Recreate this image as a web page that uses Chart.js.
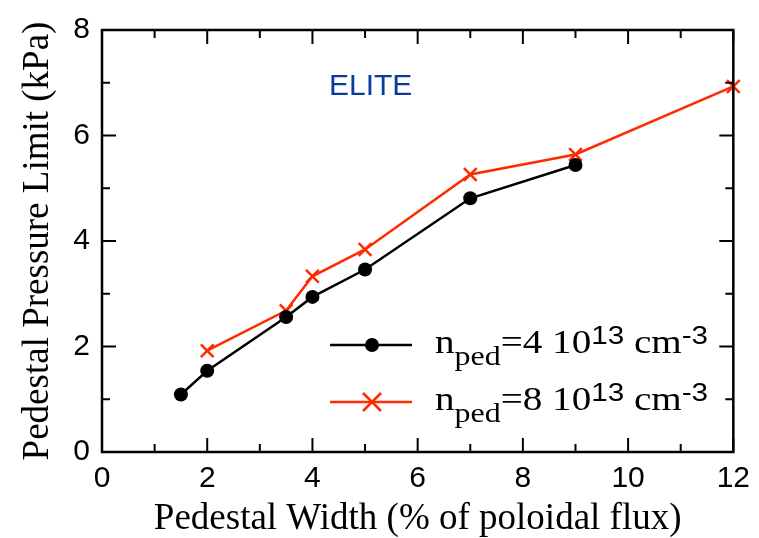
<!DOCTYPE html>
<html lang="en">
<head>
  <meta charset="UTF-8" />
  <title>Pedestal Pressure Limit vs Pedestal Width</title>
  <script src="https://cdn.jsdelivr.net/npm/chart.js"></script>
  <style>
    html, body { margin: 0; padding: 0; background: #fff; }
    #wrap { width: 759px; height: 538px; position: relative; }
  </style>
</head>
<body>
  <div id="wrap"><canvas id="pedChart" width="759" height="538"></canvas></div>
  <script>
    // data
    const widthLow = [1.5, 2, 3.5, 4, 5, 7, 9];
    const pressLow = [1.09, 1.54, 2.56, 2.94, 3.46, 4.81, 5.44];
    const widthHigh = [2, 3.5, 4, 5, 7, 9, 12];
    const pressHigh = [1.92, 2.68, 3.33, 3.84, 5.26, 5.64, 6.93];
    const xTicks = [0, 2, 4, 6, 8, 10, 12];
    const yTicks = [0, 2, 4, 6, 8];

    const RED = '#ff2a00';
    const BLUE = '#0b3a9e';
    const SERIF = '"Liberation Serif", "Times New Roman", serif';
    const SANS = '"Liberation Sans", Arial, Helvetica, sans-serif';

    const toPts = (xs, ys) => xs.map((x, i) => ({ x: x, y: ys[i] }));

    // frame + inward major/minor ticks on all four sides
    const frameTicks = {
      id: 'frameTicks',
      afterDatasetsDraw(chart) {
        const { ctx, chartArea: a, scales } = chart;
        const sx = scales.x, sy = scales.y;
        ctx.save();
        ctx.strokeStyle = '#000';
        ctx.lineWidth = 2.5;
        ctx.strokeRect(a.left, a.top, a.right - a.left, a.bottom - a.top);
        ctx.lineWidth = 2;
        ctx.beginPath();
        for (let v = sx.min; v <= sx.max; v += 1) {
          const len = v % 2 === 0 ? 14 : 8;
          const px = sx.getPixelForValue(v);
          ctx.moveTo(px, a.bottom); ctx.lineTo(px, a.bottom - len);
          ctx.moveTo(px, a.top); ctx.lineTo(px, a.top + len);
        }
        for (let v = sy.min; v <= sy.max; v += 1) {
          const len = v % 2 === 0 ? 14 : 8;
          const py = sy.getPixelForValue(v);
          ctx.moveTo(a.left, py); ctx.lineTo(a.left + len, py);
          ctx.moveTo(a.right, py); ctx.lineTo(a.right - len, py);
        }
        ctx.stroke();
        ctx.restore();
      }
    };

    // text pieces with sub/superscripts, stretched to a target width
    function drawRich(ctx, x, y, parts, targetW) {
      let w = 0;
      parts.forEach(p => { ctx.font = p.font; w += ctx.measureText(p.t).width; });
      const k = targetW ? targetW / w : 1;
      ctx.save();
      ctx.translate(x, y);
      ctx.scale(k, 1);
      let cx = 0;
      parts.forEach(p => {
        ctx.font = p.font;
        ctx.fillText(p.t, cx, p.dy || 0);
        cx += ctx.measureText(p.t).width;
      });
      ctx.restore();
    }

    // "ELITE" label and the legend
    const annotations = {
      id: 'annotations',
      afterDraw(chart) {
        const ctx = chart.ctx;
        ctx.save();
        ctx.textBaseline = 'alphabetic';
        ctx.textAlign = 'left';
        ctx.fillStyle = BLUE;
        ctx.font = '30px ' + SANS;
        ctx.fillText('ELITE', 329, 95);

        const rows = [
          { y: 345, color: '#000', style: 'circle', dens: '4' },
          { y: 402, color: RED, style: 'cross', dens: '8' }
        ];
        rows.forEach(r => {
          ctx.strokeStyle = r.color;
          ctx.fillStyle = r.color;
          ctx.lineWidth = r.style === 'circle' ? 2.5 : 2.5;
          ctx.beginPath();
          ctx.moveTo(330, r.y); ctx.lineTo(412, r.y);
          ctx.stroke();
          if (r.style === 'circle') {
            ctx.beginPath();
            ctx.arc(372, r.y, 7, 0, Math.PI * 2);
            ctx.fill();
          } else {
            const d = 9;
            ctx.beginPath();
            ctx.moveTo(372 - d, r.y - d); ctx.lineTo(372 + d, r.y + d);
            ctx.moveTo(372 - d, r.y + d); ctx.lineTo(372 + d, r.y - d);
            ctx.stroke();
          }
          ctx.fillStyle = '#000';
          drawRich(ctx, 435, r.y + 8, [
            { t: 'n', font: '33px ' + SERIF },
            { t: 'ped', font: '27px ' + SERIF, dy: 12 },
            { t: '=' + r.dens + ' 10', font: '33px ' + SERIF },
            { t: '13', font: '25px ' + SANS, dy: -9 },
            { t: ' cm', font: '33px ' + SERIF },
            { t: '-3', font: '25px ' + SANS, dy: -9 }
          ], 273);
        });
        ctx.restore();
      }
    };

    new Chart(document.getElementById('pedChart'), {
      type: 'scatter',
      data: {
        datasets: [
          {
            label: 'n_ped=4 10^13 cm^-3',
            data: toPts(widthLow, pressLow),
            showLine: true,
            borderColor: '#000',
            backgroundColor: '#000',
            borderWidth: 2.5,
            pointStyle: 'circle',
            pointRadius: 7,
            pointBorderWidth: 0,
            clip: false
          },
          {
            label: 'n_ped=8 10^13 cm^-3',
            data: toPts(widthHigh, pressHigh),
            showLine: true,
            borderColor: RED,
            backgroundColor: RED,
            borderWidth: 2.5,
            pointStyle: 'crossRot',
            pointRadius: 9,
            pointBorderWidth: 2.5,
            clip: false
          }
        ]
      },
      options: {
        responsive: false,
        animation: false,
        events: [],
        layout: { padding: { top: 25, right: 21, left: 0, bottom: 0 } },
        plugins: {
          legend: { display: false },
          tooltip: { enabled: false }
        },
        scales: {
          x: {
            type: 'linear',
            min: 0,
            max: 12,
            afterBuildTicks: s => { s.ticks = xTicks.map(v => ({ value: v })); },
            afterFit: s => { s.height = 86; },
            grid: { display: false, drawTicks: false },
            border: { display: false },
            ticks: { color: '#000', padding: 9, font: { family: SANS, size: 30 } },
            title: {
              display: true,
              text: 'Pedestal Width (% of poloidal flux)',
              color: '#000',
              font: { family: SERIF, size: 37, lineHeight: 1 },
              padding: { top: 0, bottom: 0 }
            }
          },
          y: {
            type: 'linear',
            min: 0,
            max: 8,
            afterBuildTicks: s => { s.ticks = yTicks.map(v => ({ value: v })); },
            afterFit: s => { s.width = 102; },
            grid: { display: false, drawTicks: false },
            border: { display: false },
            ticks: { color: '#000', padding: 12, font: { family: SANS, size: 30 } },
            title: {
              display: true,
              text: 'Pedestal Pressure Limit (kPa)',
              color: '#000',
              font: { family: SERIF, size: 37, lineHeight: 1 },
              padding: { top: 20, bottom: 0 }
            }
          }
        }
      },
      plugins: [frameTicks, annotations]
    });
  </script>
</body>
</html>
